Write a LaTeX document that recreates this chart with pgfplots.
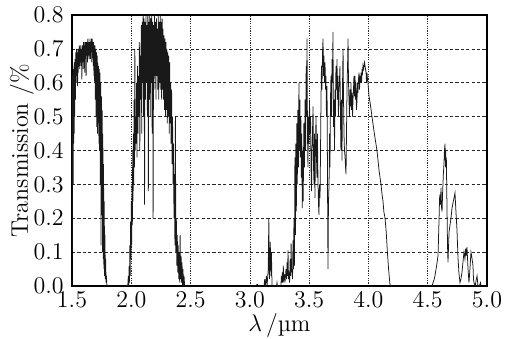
\documentclass[border=0pt]{standalone}
\usepackage{pgfplots}
\pgfplotsset{compat=1.18}
\begin{document}
\begin{tikzpicture}
\begin{axis}[
  scale only axis,
  width=207.5pt, height=135.5pt,
  xmin=1.5, xmax=5.0, ymin=0, ymax=0.8,
  xtick={1.5,2.0,...,5.0},
  ytick={0,0.1,...,0.8},
  xticklabel style={/pgf/number format/fixed,/pgf/number format/fixed zerofill,/pgf/number format/precision=1, inner sep=0pt, yshift=-3pt},
  yticklabel style={/pgf/number format/fixed,/pgf/number format/fixed zerofill,/pgf/number format/precision=1, inner sep=0pt, xshift=-4pt},
  tick label style={font=\fontsize{12}{14}\selectfont},
  label style={font=\fontsize{12}{14}\selectfont},
  grid=major,
  x grid style={black!85, line width=0.35pt, dash pattern=on 0.6pt off 0.6pt},
  y grid style={black!85, line width=0.35pt, dash pattern=on 1.6pt off 1.1pt},
  major tick length=0pt,
  axis line style={line width=0.6pt},
  ylabel={Transmission /\%},
  ylabel style={at={(rel axis cs:0,0.5)}, anchor=base, yshift=22pt},
]
\coordinate (bl) at (rel axis cs:0,0);
\coordinate (bm) at (rel axis cs:0.5,0);
\coordinate (tr) at (rel axis cs:1,1);
\addplot[black!90, line width=0.38pt] coordinates {
(1.500,0.62)(1.502,0.10)(1.504,0.60)(1.506,0.35)(1.508,0.63)(1.510,0.30)(1.512,0.64)(1.514,0.42)(1.516,0.65)(1.518,0.45)
(1.520,0.66)(1.523,0.50)(1.526,0.67)(1.529,0.55)(1.532,0.69)(1.535,0.60)(1.538,0.70)(1.541,0.62)(1.544,0.69)(1.547,0.59)
(1.550,0.70)(1.553,0.63)(1.556,0.70)(1.559,0.65)(1.562,0.71)(1.565,0.64)(1.568,0.70)(1.571,0.66)(1.574,0.71)(1.577,0.65)
(1.580,0.70)(1.583,0.61)(1.586,0.71)(1.589,0.66)(1.592,0.71)(1.595,0.64)(1.598,0.72)(1.601,0.66)(1.604,0.71)(1.607,0.63)
(1.610,0.72)(1.613,0.67)(1.616,0.72)(1.619,0.62)(1.622,0.72)(1.625,0.68)(1.628,0.72)(1.631,0.66)(1.634,0.73)(1.637,0.69)
(1.640,0.72)(1.643,0.67)(1.646,0.72)(1.649,0.68)(1.652,0.73)(1.655,0.67)(1.658,0.72)(1.661,0.69)(1.664,0.73)(1.667,0.66)
(1.670,0.73)(1.673,0.68)(1.676,0.72)(1.679,0.65)(1.682,0.72)(1.685,0.62)(1.688,0.71)(1.691,0.60)(1.694,0.71)(1.697,0.55)
(1.700,0.70)(1.703,0.50)(1.706,0.69)(1.709,0.47)(1.712,0.68)(1.715,0.45)(1.718,0.66)(1.721,0.48)(1.724,0.65)(1.727,0.42)
(1.730,0.64)(1.733,0.40)(1.736,0.63)(1.739,0.30)(1.742,0.60)(1.745,0.12)(1.748,0.56)(1.751,0.25)(1.754,0.52)(1.757,0.10)
(1.760,0.45)(1.763,0.08)(1.766,0.36)(1.769,0.05)(1.772,0.25)(1.775,0.03)(1.778,0.15)(1.781,0.02)(1.784,0.08)(1.787,0.01)
(1.790,0.03)(1.795,0.0)(1.970,0.0)
(1.975,0.03)(1.978,0.00)(1.982,0.06)(1.985,0.01)(1.988,0.12)(1.991,0.03)(1.994,0.19)(1.997,0.08)(2.000,0.25)(2.003,0.12)
(2.006,0.30)(2.009,0.18)(2.012,0.40)(2.015,0.25)(2.018,0.45)(2.021,0.30)(2.024,0.55)(2.027,0.35)(2.030,0.70)(2.033,0.40)
(2.036,0.50)(2.040,0.42)(2.044,0.60)(2.048,0.38)(2.052,0.65)(2.056,0.45)(2.060,0.62)(2.064,0.50)(2.068,0.72)(2.072,0.40)
(2.076,0.68)(2.080,0.55)(2.084,0.77)(2.088,0.45)(2.092,0.78)(2.096,0.60)(2.100,0.80)(2.104,0.50)(2.108,0.79)(2.112,0.24)
(2.116,0.78)(2.120,0.55)(2.124,0.80)(2.128,0.60)(2.132,0.77)(2.136,0.50)(2.140,0.80)(2.144,0.28)(2.148,0.78)(2.152,0.55)
(2.156,0.80)(2.160,0.50)(2.164,0.79)(2.168,0.60)(2.172,0.80)(2.176,0.45)(2.180,0.78)(2.184,0.20)(2.188,0.77)(2.192,0.58)
(2.196,0.80)(2.200,0.62)(2.204,0.78)(2.208,0.55)(2.212,0.79)(2.216,0.62)(2.220,0.76)(2.224,0.58)(2.228,0.80)(2.232,0.55)
(2.236,0.78)(2.240,0.60)(2.244,0.80)(2.248,0.58)(2.252,0.78)(2.256,0.55)(2.260,0.79)(2.264,0.58)(2.268,0.76)(2.272,0.55)
(2.276,0.74)(2.280,0.52)(2.284,0.73)(2.288,0.50)(2.292,0.72)(2.296,0.52)(2.300,0.70)(2.304,0.48)(2.308,0.69)(2.312,0.50)
(2.316,0.68)(2.320,0.45)(2.324,0.66)(2.328,0.48)(2.332,0.60)(2.336,0.42)(2.340,0.58)(2.344,0.36)(2.348,0.50)(2.352,0.30)
(2.356,0.42)(2.360,0.20)(2.364,0.33)(2.368,0.12)(2.372,0.50)(2.376,0.10)(2.380,0.20)(2.384,0.06)(2.388,0.15)(2.392,0.04)
(2.396,0.12)(2.400,0.02)(2.404,0.10)(2.408,0.01)(2.412,0.15)(2.416,0.02)(2.420,0.09)(2.424,0.01)(2.428,0.07)(2.432,0.00)
(2.436,0.05)(2.440,0.00)(2.445,0.03)(2.450,0.00)
(3.040,0.00)(3.065,0.005)(3.070,0.00)(3.120,0.00)(3.125,0.02)(3.130,0.00)(3.140,0.03)(3.145,0.00)(3.155,0.05)(3.160,0.20)
(3.165,0.02)(3.172,0.13)(3.178,0.03)(3.182,0.10)(3.187,0.00)(3.225,0.00)(3.229,0.01)(3.233,0.00)(3.262,0.00)(3.266,0.03)
(3.270,0.01)(3.274,0.04)(3.278,0.01)(3.282,0.06)(3.286,0.02)(3.292,0.03)(3.296,0.01)(3.305,0.05)(3.310,0.02)(3.314,0.07)
(3.318,0.03)(3.322,0.105)(3.326,0.02)(3.330,0.04)(3.335,0.01)(3.340,0.08)(3.344,0.03)(3.348,0.125)(3.352,0.04)(3.356,0.05)
(3.360,0.02)(3.364,0.135)(3.368,0.05)(3.372,0.20)(3.376,0.06)(3.380,0.38)(3.384,0.15)(3.388,0.42)(3.392,0.22)(3.396,0.48)
(3.400,0.30)(3.405,0.52)(3.410,0.35)(3.414,0.60)(3.418,0.40)(3.422,0.55)(3.426,0.38)(3.430,0.50)(3.434,0.32)(3.438,0.45)
(3.442,0.23)(3.446,0.40)(3.450,0.25)(3.455,0.48)(3.460,0.35)(3.466,0.55)(3.470,0.40)(3.475,0.65)(3.478,0.50)(3.482,0.73)
(3.486,0.45)(3.490,0.35)(3.494,0.50)(3.499,0.42)(3.503,0.55)(3.507,0.45)(3.512,0.50)(3.516,0.35)(3.520,0.28)(3.524,0.40)
(3.528,0.45)(3.533,0.53)(3.537,0.35)(3.541,0.30)(3.545,0.45)(3.549,0.26)(3.553,0.40)(3.558,0.50)(3.562,0.38)(3.566,0.32)
(3.570,0.45)(3.575,0.30)(3.579,0.24)(3.583,0.21)(3.587,0.30)(3.592,0.26)(3.596,0.40)(3.600,0.55)(3.604,0.65)(3.608,0.58)
(3.613,0.69)(3.617,0.73)(3.621,0.62)(3.625,0.68)(3.630,0.60)(3.634,0.66)(3.638,0.58)(3.642,0.62)(3.646,0.50)(3.651,0.59)
(3.655,0.30)(3.659,0.05)(3.663,0.25)(3.668,0.30)(3.672,0.45)(3.676,0.35)(3.680,0.55)(3.684,0.62)(3.688,0.50)(3.693,0.67)
(3.697,0.60)(3.701,0.75)(3.705,0.47)(3.710,0.55)(3.714,0.40)(3.718,0.58)(3.722,0.50)(3.726,0.65)(3.730,0.58)(3.735,0.67)
(3.739,0.55)(3.743,0.62)(3.747,0.50)(3.751,0.58)(3.755,0.60)(3.760,0.65)(3.764,0.50)(3.768,0.40)(3.772,0.55)(3.777,0.37)
(3.781,0.58)(3.786,0.70)(3.790,0.55)(3.794,0.45)(3.798,0.40)(3.803,0.38)(3.807,0.35)(3.811,0.33)(3.815,0.45)(3.820,0.60)
(3.824,0.65)(3.828,0.73)(3.832,0.60)(3.836,0.55)(3.840,0.50)(3.845,0.58)(3.849,0.53)(3.853,0.60)(3.857,0.52)(3.862,0.57)
(3.866,0.50)(3.870,0.55)(3.874,0.58)(3.878,0.62)(3.882,0.56)(3.887,0.62)(3.891,0.55)(3.895,0.60)(3.899,0.52)(3.904,0.55)
(3.908,0.60)(3.912,0.57)(3.916,0.61)(3.921,0.63)(3.925,0.58)(3.929,0.62)(3.933,0.60)(3.938,0.63)(3.942,0.60)(3.946,0.64)
(3.950,0.63)(3.954,0.65)(3.958,0.64)(3.963,0.65)(3.967,0.66)(3.971,0.65)(3.975,0.64)(3.980,0.63)(3.984,0.60)(3.988,0.63)
(3.992,0.61)(3.996,0.60)(4.005,0.56)(4.015,0.54)(4.030,0.50)(4.050,0.45)(4.072,0.40)(4.090,0.34)(4.106,0.30)(4.115,0.27)
(4.123,0.25)(4.130,0.22)(4.140,0.20)(4.150,0.16)(4.160,0.10)(4.170,0.05)(4.180,0.01)(4.185,0.00)
(4.530,0.00)(4.536,0.00)(4.545,0.01)(4.555,0.02)(4.561,0.03)(4.575,0.06)(4.587,0.09)(4.595,0.19)(4.600,0.26)(4.604,0.27)
(4.608,0.24)(4.612,0.29)(4.617,0.23)(4.621,0.22)(4.626,0.28)(4.632,0.33)(4.637,0.36)(4.641,0.40)(4.646,0.42)(4.650,0.35)
(4.652,0.40)(4.654,0.35)(4.657,0.38)(4.660,0.30)(4.663,0.22)(4.667,0.12)(4.671,0.07)(4.676,0.12)(4.680,0.16)(4.688,0.18)
(4.696,0.20)(4.705,0.23)(4.713,0.245)(4.722,0.26)(4.730,0.275)(4.738,0.22)(4.747,0.165)(4.755,0.086)(4.763,0.04)(4.772,0.01)
(4.780,0.02)(4.789,0.04)(4.797,0.07)(4.806,0.10)(4.814,0.08)(4.820,0.11)(4.826,0.09)(4.831,0.115)(4.836,0.08)(4.840,0.05)
(4.848,0.01)(4.856,0.05)(4.865,0.10)(4.870,0.09)(4.874,0.08)(4.882,0.06)(4.886,0.02)(4.890,0.01)(4.900,0.00)(4.910,0.02)
(4.916,0.03)(4.924,0.00)(4.935,0.00)(4.945,0.01)(4.950,0.00)(5.000,0.00)
};
\end{axis}
\node[anchor=base, inner sep=0pt, font=\fontsize{12}{14}\selectfont] at ([yshift=-22.5pt]bm) {$\lambda$\,/µm};
\pgfresetboundingbox
\path ([xshift=-36pt,yshift=-26pt]bl) rectangle ([xshift=10pt,yshift=7.5pt]tr);
\end{tikzpicture}
\end{document}
